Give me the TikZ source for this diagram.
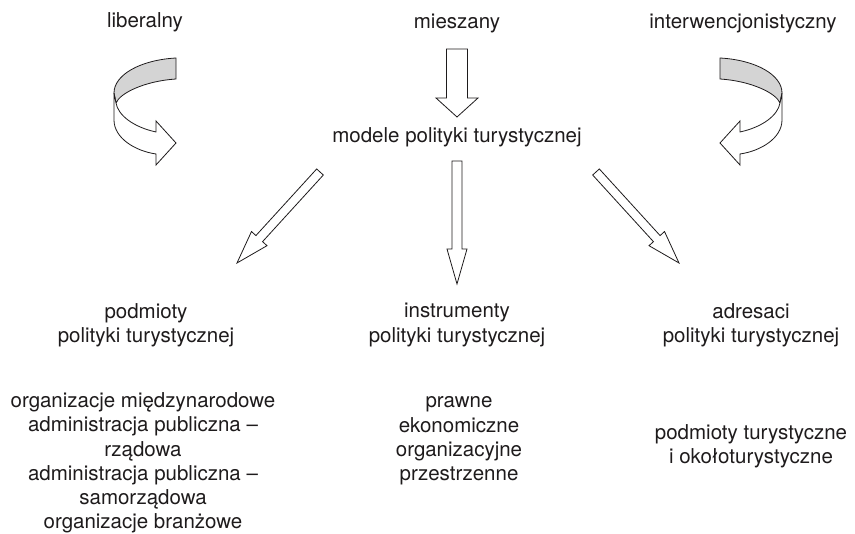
\documentclass[tikz,border=0pt]{standalone}
\usepackage{fontspec}
\setmainfont{TeX Gyre Heros}
\usepackage{tikz}
\usetikzlibrary{calc}

\definecolor{ink}{RGB}{30,27,28}
\definecolor{ribbongray}{RGB}{212,212,212}

% block arrow: start, tip, half shaft, half head, head length
\newcommand{\hollowarrow}[5]{%
	\coordinate (ha-h) at ($(#2)!#5!(#1)$);
	\draw[hollow] ($(#1)!#3!90:(#2)$) -- ($(ha-h)!#3!90:(#2)$) -- ($(ha-h)!#4!90:(#2)$)
	-- (#2) -- ($(ha-h)!#4!-90:(#2)$) -- ($(ha-h)!#3!-90:(#2)$) -- ($(#1)!#3!-90:(#2)$) -- cycle;
}

\begin{document}
\begin{tikzpicture}[x=1pt,y=1pt,
		txt/.style={align=center,text=ink,font=\fontsize{20.5}{24.3}\selectfont},
		hollow/.style={draw=ink,fill=white,line width=0.8pt,line join=miter},
		ribbon/.style={draw=ink,line width=0.8pt},
		curl/.pic={
			\filldraw[ribbon,fill=ribbongray] (31,35) .. controls (-5,33) and (-31,18) .. (-31,0)
			-- (-29,-10) .. controls (-25,0) and (0,12) .. (31,14) -- cycle;
			\filldraw[ribbon,fill=white] (-31,0) -- (-31,-27) .. controls (-31,-45) and (-10,-58) .. (11,-61)
			-- (11,-72) -- (31,-50) -- (11,-28) -- (11,-39) .. controls (-12,-34) and (-27,-22) .. (-29,-10) -- cycle;
		}
		]
		\useasboundingbox (0,0) rectangle (855,534);
		
		% manual positions
		\node[txt] (lib) at (145,512) {liberalny};
		\node[txt] (mies) at (457,511) {mieszany};
		\node[txt] (inter) at (743,511) {interwencjonistyczny};
		
		\node[txt] (modele) at (457,397) {modele polityki turystycznej};
		
		\node[txt] (podm) at (146,209) {podmioty\\polityki turystycznej};
		\node[txt] (instr) at (457,209) {instrumenty\\polityki turystycznej};
		\node[txt] (adres) at (751,209) {adresaci\\polityki turystycznej};
		
		\node[txt] (podmlist) at (143,71)
		{organizacje międzynarodowe\\administracja publiczna --\\rządowa\\
			administracja publiczna --\\samorządowa\\organizacje branżowe};
		\node[txt] (instrlist) at (459,93) {prawne\\ekonomiczne\\organizacyjne\\przestrzenne};
		\node[txt] (adreslist) at (751,88) {podmioty turystyczne\\i okołoturystyczne};
		
		% curled arrows
		\pic at ($(lib)+(0,-71)$) {curl};
		\pic[xscale=-1] at ($(inter)+(8,-70)$) {curl};
		
		% arrows
		\coordinate (m1) at ($(mies)+(0,-26)$);
		\coordinate (m2) at ($(modele)+(0,20)$);
		\hollowarrow{m1}{m2}{10.5pt}{21pt}{19pt}
		
		\coordinate (d1) at ($(modele)+(0,-24)$);
		\coordinate (d2) at ($(instr)+(0,41)$);
		\hollowarrow{d1}{d2}{5pt}{10pt}{35pt}
		
		\coordinate (l1) at ($(modele)+(-137,-35)$);
		\coordinate (l2) at ($(podm)+(91,62)$);
		\hollowarrow{l1}{l2}{4.5pt}{10.5pt}{33pt}
		
		\coordinate (r1) at ($(modele)+(139,-35)$);
		\coordinate (r2) at ($(adres)+(-72,62)$);
		\hollowarrow{r1}{r2}{4.5pt}{10.5pt}{33pt}
\end{tikzpicture}
\end{document}
